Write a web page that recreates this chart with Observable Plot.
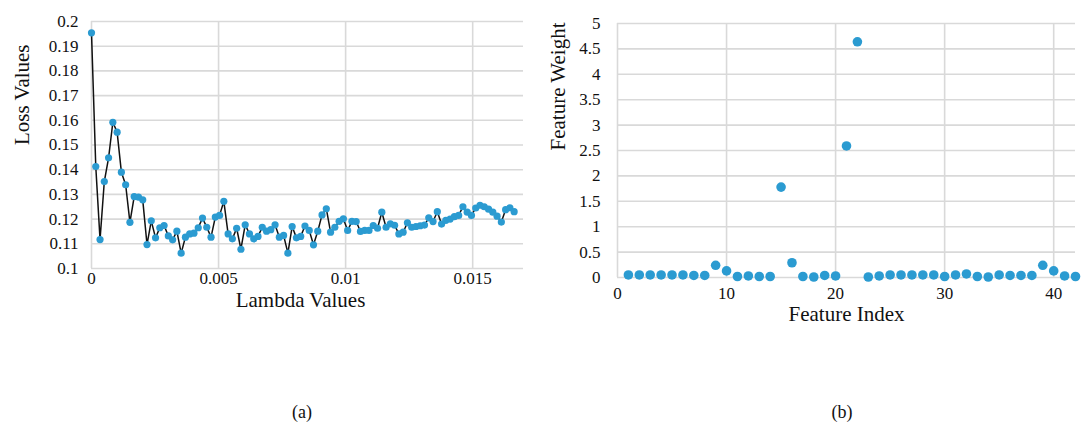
<!DOCTYPE html>
<html><head><meta charset="utf-8">
<script src="https://cdn.jsdelivr.net/npm/d3@7"></script>
<script src="https://cdn.jsdelivr.net/npm/@observablehq/plot@0.6"></script>
<style>
body{margin:0;background:#fff;font-family:"Liberation Serif","Times New Roman",serif;}
#wrap{position:relative;width:1081px;height:432px;overflow:hidden;background:#fff}
.panel{position:absolute;top:0}
.cap{position:absolute;font-size:18px;top:402px;text-align:center;width:60px;color:#111}
svg text{font-family:"Liberation Serif","Times New Roman",serif !important;font-variant-numeric:normal !important;}
</style></head><body>
<div id="wrap">
<div id="a" class="panel" style="left:0"></div>
<div id="b" class="panel" style="left:540px"></div>
<div class="cap" style="left:272px">(a)</div>
<div class="cap" style="left:812px">(b)</div>
</div>
<script>
const lambdaValues = [0,0.000168,0.000336,0.000504,0.000672,0.00084,0.001008,0.001176,0.001344,0.001512,
0.00168,0.001848,0.002016,0.002184,0.002352,0.00252,0.002688,0.002856,0.003024,0.003192,
0.00336,0.003528,0.003696,0.003864,0.004032,0.0042,0.004368,0.004536,0.004704,0.004872,
0.00504,0.005208,0.005376,0.005544,0.005712,0.00588,0.006048,0.006216,0.006384,0.006552,
0.00672,0.006888,0.007056,0.007224,0.007392,0.00756,0.007728,0.007896,0.008064,0.008232,
0.0084,0.008568,0.008736,0.008904,0.009072,0.00924,0.009408,0.009576,0.009744,0.009912,
0.01008,0.010248,0.010416,0.010584,0.010752,0.01092,0.011088,0.011256,0.011424,0.011592,
0.01176,0.011928,0.012096,0.012264,0.012432,0.0126,0.012768,0.012936,0.013104,0.013272,
0.01344,0.013608,0.013776,0.013944,0.014112,0.01428,0.014448,0.014616,0.014784,0.014952,
0.01512,0.015288,0.015456,0.015624,0.015792,0.01596,0.016128,0.016296,0.016464,0.016632];
const lossValues = [0.1954,0.1413,0.1117,0.1352,0.1448,0.1592,0.1552,0.1390,0.1339,0.1187,
0.1291,0.1289,0.1278,0.1097,0.1193,0.1124,0.1165,0.1174,0.1132,0.1116,
0.1151,0.1062,0.1127,0.1140,0.1143,0.1165,0.1204,0.1167,0.1127,0.1208,
0.1215,0.1272,0.1140,0.1120,0.1163,0.1078,0.1177,0.1140,0.1120,0.1130,
0.1167,0.1151,0.1157,0.1177,0.1127,0.1134,0.1062,0.1170,0.1124,0.1130,
0.1172,0.1154,0.1096,0.1151,0.1217,0.1242,0.1147,0.1167,0.1191,0.1201,
0.1154,0.1191,0.1190,0.1150,0.1154,0.1154,0.1174,0.1163,0.1228,0.1167,
0.1181,0.1175,0.1140,0.1147,0.1185,0.1167,0.1170,0.1173,0.1176,0.1205,
0.1190,0.1230,0.1180,0.1195,0.1200,0.1210,0.1215,0.1250,0.1228,0.1215,
0.1245,0.1256,0.1250,0.1240,0.1228,0.1212,0.1188,0.1238,0.1246,0.1230];
const lossTicks = [0.1,0.11,0.12,0.13,0.14,0.15,0.16,0.17,0.18,0.19,0.2];
const lambdaTicks = [0,0.005,0.01,0.015];

const featureIndex = [1,2,3,4,5,6,7,8,9,10,11,12,13,14,15,16,17,18,19,20,21,22,23,24,25,26,27,28,29,30,31,32,33,34,35,36,37,38,39,40,41,42];
const featureWeight = [0.05,0.05,0.05,0.05,0.05,0.05,0.04,0.04,0.24,0.13,0.02,0.03,0.02,0.02,1.78,0.29,0.02,0.01,0.04,0.03,2.59,4.64,0.01,0.03,0.05,0.05,0.05,0.05,0.05,0.02,0.05,0.07,0.02,0.01,0.05,0.04,0.04,0.04,0.24,0.13,0.03,0.02];
const weightTicks = [0,0.5,1,1.5,2,2.5,3,3.5,4,4.5,5];
const indexTicks = [0,10,20,30,40];

const fmt = d => String(+(+d).toFixed(4));
const gridStyle = {stroke:"#d9d9d9", strokeOpacity:1, strokeWidth:1.6};
const dotColor = "#2b9bd1";
const font = "'Liberation Serif', 'Times New Roman', serif";

const lossData = lambdaValues.map((x,i)=>({x, y: lossValues[i]}));
const A = Plot.plot({
  width: 540, height: 330,
  marginLeft: 91, marginRight: 17, marginTop: 21, marginBottom: 62,
  style: {fontFamily: font, fontSize: "17px", color: "#111", background: "#fff"},
  x: {domain: [0, 0.017]},
  y: {domain: [0.1, 0.2]},
  marks: [
    Plot.gridX(lambdaTicks, gridStyle),
    Plot.gridY(lossTicks, gridStyle),
    Plot.axisX(lambdaTicks, {tickSize: 0, tickPadding: 3, tickFormat: fmt, label: null, fontSize: 17, fontFamily: font}),
    Plot.axisY(lossTicks, {tickSize: 0, tickPadding: 13, tickFormat: fmt, label: null, fontSize: 17, fontFamily: font}),
    Plot.text(["Lambda Values"], {frameAnchor: "bottom", dy: 38, dx: -7, fontSize: 21, fill: "#111", fontFamily: font}),
    Plot.text(["Loss Values"], {frameAnchor: "left", dx: -69, rotate: -90, fontSize: 21, fill: "#111", fontFamily: font}),
    Plot.line(lossData, {x: "x", y: "y", stroke: "#111", strokeWidth: 1.5}),
    Plot.dot(lossData, {x: "x", y: "y", r: 3.6, fill: dotColor})
  ]
});
document.getElementById("a").appendChild(A);

const weightData = featureIndex.map((x,i)=>({x, y: featureWeight[i]}));
const B = Plot.plot({
  width: 541, height: 340,
  marginLeft: 77, marginRight: 6, marginTop: 23, marginBottom: 63,
  style: {fontFamily: font, fontSize: "17px", color: "#111", background: "#fff"},
  x: {domain: [0, 42]},
  y: {domain: [0, 5]},
  marks: [
    Plot.gridX(indexTicks, gridStyle),
    Plot.gridY(weightTicks, gridStyle),
    Plot.axisX(indexTicks, {tickSize: 0, tickPadding: 9, tickFormat: fmt, label: null, fontSize: 17, fontFamily: font}),
    Plot.axisY(weightTicks, {tickSize: 0, tickPadding: 17, tickFormat: fmt, label: null, fontSize: 17, fontFamily: font}),
    Plot.text(["Feature Index"], {frameAnchor: "bottom", dy: 43, fontSize: 21, fill: "#111", fontFamily: font}),
    Plot.text(["Feature Weight"], {frameAnchor: "left", dx: -59, rotate: -90, fontSize: 21, fill: "#111", fontFamily: font}),
    Plot.dot(weightData, {x: "x", y: "y", r: 4.8, fill: dotColor})
  ]
});
document.getElementById("b").appendChild(B);
</script>
</body></html>
